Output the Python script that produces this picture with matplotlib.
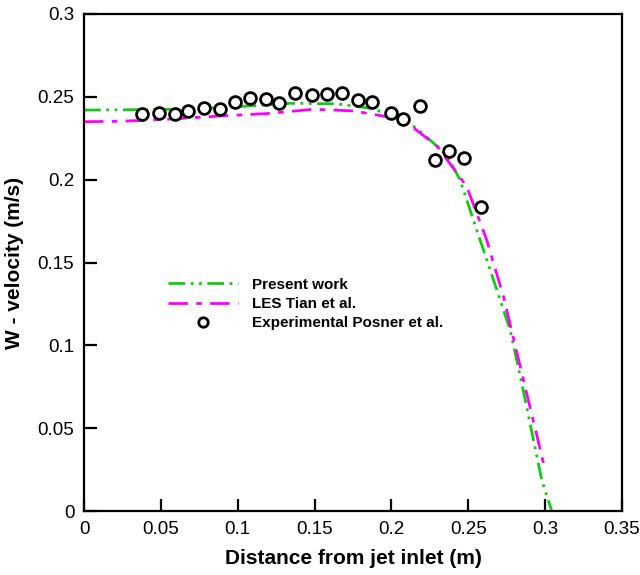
import matplotlib
matplotlib.use("Agg")
import matplotlib.pyplot as plt

plt.rcParams['font.family'] = ['Liberation Sans', 'DejaVu Sans']

# Present work (green)
present_x = [0.0, 0.03, 0.06, 0.09, 0.12, 0.134, 0.1644, 0.1861, 0.2035, 0.2165,
             0.236, 0.2447, 0.2555, 0.2686, 0.2772, 0.2848, 0.2978, 0.3043]
present_y = [0.242, 0.2422, 0.2425, 0.2435, 0.2452, 0.2461, 0.2458, 0.2431, 0.238, 0.231,
             0.2149, 0.1998, 0.1696, 0.1334, 0.1093, 0.0771, 0.0187, 0.0]

# LES Tian et al. (magenta)
les_x = [0.0, 0.02, 0.04, 0.06, 0.09, 0.121, 0.1492, 0.1753, 0.197, 0.2121,
         0.23, 0.249, 0.262, 0.2729, 0.2859, 0.300]
les_y = [0.235, 0.2352, 0.2358, 0.2368, 0.2385, 0.2400, 0.2425, 0.2415, 0.238, 0.233,
         0.220, 0.1958, 0.1636, 0.1294, 0.0791, 0.0247]

# Experimental Posner et al.
exp_x = [0.0375, 0.0488, 0.0590, 0.0675, 0.0783, 0.0887, 0.0983, 0.1080, 0.1184, 0.1271,
         0.1375, 0.1482, 0.1579, 0.1679, 0.1785, 0.1874, 0.1996, 0.2078, 0.2186, 0.2286,
         0.2377, 0.2475, 0.2585]
exp_y = [0.2395, 0.2400, 0.2398, 0.2413, 0.2434, 0.2427, 0.2469, 0.2491, 0.2485, 0.2461,
         0.2521, 0.2509, 0.2517, 0.2525, 0.2481, 0.2469, 0.2400, 0.2364, 0.2443, 0.2119,
         0.2175, 0.2133, 0.1837]

xticks = [0, 0.05, 0.1, 0.15, 0.2, 0.25, 0.3, 0.35]
xticklabels = ['0', '0.05', '0.1', '0.15', '0.2', '0.25', '0.3', '0.35']
yticks = [0, 0.05, 0.1, 0.15, 0.2, 0.25, 0.3]
yticklabels = ['0', '0.05', '0.1', '0.15', '0.2', '0.25', '0.3']

fig = plt.figure(figsize=(6.4, 5.75), dpi=100)
ax = fig.add_axes([84/640, 1 - 511/575, (622-84)/640, (511-14)/575])

ax.plot(present_x, present_y, color='#11cc11', lw=2.0,
        dashes=[6, 2, 1, 2, 1, 2], label='Present work')
ax.plot(les_x, les_y, color='#ff00ff', lw=2.0,
        dashes=[7, 3, 2, 3], label='LES Tian et al.')
ax.plot(exp_x, exp_y, linestyle='none', marker='o', ms=8.5, mfc='white',
        mec='black', mew=2.0, label='Experimental Posner et al.')

ax.set_xlim(0, 0.35)
ax.set_ylim(0, 0.3)
ax.set_xticks(xticks)
ax.set_xticklabels(xticklabels)
ax.set_yticks(yticks)
ax.set_yticklabels(yticklabels)
ax.tick_params(direction='in', length=9, width=1.6, labelsize=13.5, pad=7,
               top=False, right=False)
for s in ax.spines.values():
    s.set_linewidth(1.6)

ax.set_xlabel('Distance from jet inlet (m)', fontsize=15, fontweight='bold', labelpad=8)
ax.set_ylabel('W - velocity (m/s)', fontsize=15, fontweight='bold', labelpad=10)

leg = ax.legend(loc='upper left', bbox_to_anchor=(0.13, 0.497), frameon=False,
                handlelength=4.6, handletextpad=0.9, labelspacing=0.35,
                markerscale=0.8, prop={'weight': 'bold', 'size': 11})

fig.savefig('out.png', dpi=100)
